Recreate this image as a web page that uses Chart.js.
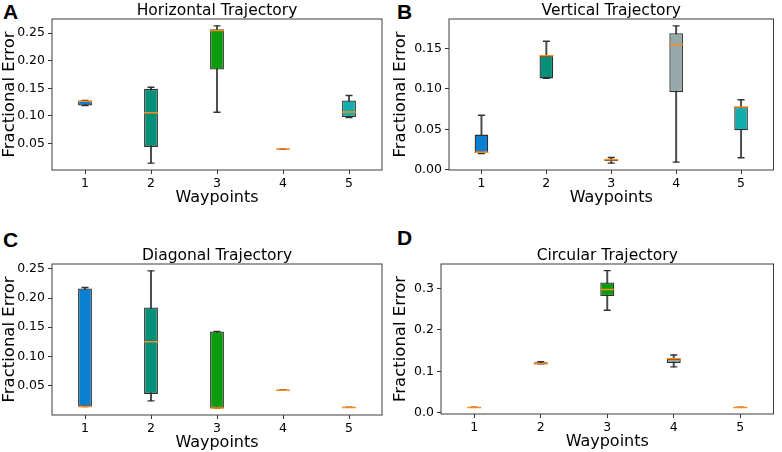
<!DOCTYPE html>
<html>
<head>
<meta charset="utf-8">
<script src="https://cdn.jsdelivr.net/npm/chart.js@4.4.1/dist/chart.umd.min.js"></script>
<style>
    body { margin: 0; background: #fff; width: 782px; height: 452px; position: relative; overflow: hidden; }
    canvas { position: absolute; }
    .tag { position: absolute; font: bold 21px "Liberation Sans", Arial, sans-serif; line-height: 21px; color: #000; }
</style>
</head>
<body>
<div class="tag" style="left:3px;top:1px">A</div>
<div class="tag" style="left:397px;top:1px">B</div>
<div class="tag" style="left:3px;top:229px">C</div>
<div class="tag" style="left:397px;top:227px">D</div>
<canvas id="chartA" width="391" height="226" style="left:0;top:0"></canvas>
<canvas id="chartB" width="391" height="226" style="left:391px;top:0"></canvas>
<canvas id="chartC" width="391" height="226" style="left:0;top:226px"></canvas>
<canvas id="chartD" width="391" height="226" style="left:391px;top:226px"></canvas>
<script>
var waypoints = ['1', '2', '3', '4', '5'];
var boxColors = ['#0b7fcf', '#06907a', '#0a9c0a', '#95a9ab', '#13adad'];

// horizontal trajectory
var horizLo  = [0.119, 0.0146, 0.1067, 0.040, 0.097];
var horizQ1  = [0.119, 0.044, 0.184, 0.040, 0.098];
var horizMed = [0.1265, 0.1056, 0.2547, 0.040, 0.107];
var horizQ3  = [0.128, 0.149, 0.257, 0.040, 0.128];
var horizHi  = [0.128, 0.152, 0.263, 0.040, 0.137];
var horizTicks = [0.05, 0.10, 0.15, 0.20, 0.25];

// vertical trajectory
var vertLo  = [0.020, 0.113, 0.0082, 0.0095, 0.0148];
var vertQ1  = [0.021, 0.113, 0.0107, 0.096, 0.0489];
var vertMed = [0.0218, 0.141, 0.0123, 0.155, 0.0776];
var vertQ3  = [0.0435, 0.141, 0.0135, 0.169, 0.0776];
var vertHi  = [0.0674, 0.159, 0.0152, 0.178, 0.0866];
var vertTicks = [0.00, 0.05, 0.10, 0.15];

// diagonal trajectory
var diagLo  = [0.014, 0.0237, 0.0112, 0.0418, 0.0124];
var diagQ1  = [0.014, 0.0356, 0.0112, 0.0418, 0.0124];
var diagMed = [0.0141, 0.1252, 0.0112, 0.0418, 0.0124];
var diagQ3  = [0.2163, 0.1838, 0.1428, 0.0418, 0.0124];
var diagHi  = [0.218, 0.2466, 0.1428, 0.0418, 0.0124];
var diagTicks = [0.05, 0.10, 0.15, 0.20, 0.25];

// circular trajectory
var circLo  = [0.0129, 0.118, 0.2475, 0.1107, 0.0129];
var circQ1  = [0.0129, 0.1185, 0.2816, 0.1203, 0.0129];
var circMed = [0.0129, 0.1185, 0.2976, 0.1305, 0.0129];
var circQ3  = [0.0129, 0.122, 0.3143, 0.1305, 0.0129];
var circHi  = [0.0129, 0.1235, 0.343, 0.1394, 0.0129];
var circTicks = [0.0, 0.1, 0.2, 0.3];

var font = 'DejaVu Sans';

// frame round the plot area and the title above it
var framePlugin = {
    id: 'frame',
    afterDatasetsDraw: function (chart, args, opts) {
        var a = chart.chartArea, ctx = chart.ctx;
        ctx.save();
        ctx.strokeStyle = '#3c3c3c';
        ctx.lineWidth = 1;
        ctx.strokeRect(a.left, a.top, a.right - a.left, a.bottom - a.top);
        ctx.fillStyle = '#000';
        ctx.font = '15.5px "' + font + '"';
        ctx.textAlign = 'center';
        ctx.textBaseline = 'alphabetic';
        ctx.fillText(opts.text, (a.left + a.right) / 2, a.top - 4);
        ctx.restore();
    }
};

function makePanel(id, title, lo, q1, med, q3, hi, ticks, dec, yMin, yMax, pad) {
    var ctx = document.getElementById(id).getContext('2d');
    return new Chart(ctx, {
        type: 'bar',
        data: {
            labels: waypoints,
            datasets: [{
                type: 'line',
                data: med,
                showLine: false,
                pointStyle: 'line',
                pointRadius: 7,
                pointBorderWidth: 1.5,
                pointBorderColor: '#ff8a1c',
                order: 0
            }, {
                type: 'line',
                data: hi,
                showLine: false,
                pointStyle: 'line',
                pointRadius: 3.5,
                pointBorderWidth: 1.4,
                pointBorderColor: '#333',
                order: 1
            }, {
                type: 'line',
                data: lo,
                showLine: false,
                pointStyle: 'line',
                pointRadius: 3.5,
                pointBorderWidth: 1.4,
                pointBorderColor: '#333',
                order: 1
            }, {
                data: q1.map(function (v, i) { return [v, q3[i]]; }),
                backgroundColor: boxColors,
                borderColor: '#2e2e2e',
                borderWidth: 1.3,
                borderSkipped: false,
                grouped: false,
                barPercentage: 0.21,
                categoryPercentage: 1,
                order: 2
            }, {
                data: lo.map(function (v, i) { return [v, hi[i]]; }),
                backgroundColor: '#4a4a4a',
                barThickness: 1.3,
                grouped: false,
                order: 3
            }]
        },
        options: {
            responsive: false,
            animation: false,
            events: [],
            layout: { padding: pad },
            plugins: {
                legend: { display: false },
                tooltip: { enabled: false },
                frame: { text: title }
            },
            scales: {
                x: {
                    offset: true,
                    grid: { offset: false, drawOnChartArea: false, drawTicks: true, tickLength: 4, tickColor: '#333' },
                    border: { display: false },
                    ticks: { color: '#000', font: { family: font, size: 12.5 }, padding: 2 },
                    title: { display: true, text: 'Waypoints', color: '#000', font: { family: font, size: 16 }, padding: 0 },
                    afterFit: function (s) { s.height = 37; }
                },
                y: {
                    min: yMin,
                    max: yMax,
                    bounds: 'data',
                    grid: { drawOnChartArea: false, drawTicks: true, tickLength: 4, tickColor: '#333' },
                    border: { display: false },
                    ticks: {
                        color: '#000',
                        font: { family: font, size: 12.5 },
                        padding: 3,
                        callback: function (v) { return v.toFixed(dec); }
                    },
                    afterBuildTicks: function (s) {
                        s.ticks = ticks.map(function (v) { return { value: v }; });
                    },
                    title: { display: true, text: 'Fractional Error', color: '#000', font: { family: font, size: 16.5 }, padding: 0 },
                    afterFit: function (s) { s.width = pad.yw; }
                }
            }
        },
        plugins: [framePlugin]
    });
}

window.onload = function () {
    makePanel('chartA', 'Horizontal Trajectory', horizLo, horizQ1, horizMed, horizQ3, horizHi,
        horizTicks, 2, 0.0022, 0.2754, { left: 0, top: 19, right: 9, bottom: 19, yw: 52 });
    makePanel('chartB', 'Vertical Trajectory', vertLo, vertQ1, vertMed, vertQ3, vertHi,
        vertTicks, 2, -0.0003, 0.1865, { left: 0, top: 19, right: 5, bottom: 19, yw: 58 });
    makePanel('chartC', 'Diagonal Trajectory', diagLo, diagQ1, diagMed, diagQ3, diagHi,
        diagTicks, 2, -0.0006, 0.2584, { left: 0, top: 38, right: 9, bottom: 0, yw: 52 });
    makePanel('chartD', 'Circular Trajectory', circLo, circQ1, circMed, circQ3, circHi,
        circTicks, 1, -0.003, 0.359, { left: 0, top: 38, right: 4, bottom: 1, yw: 50 });
};
</script>
</body>
</html>
